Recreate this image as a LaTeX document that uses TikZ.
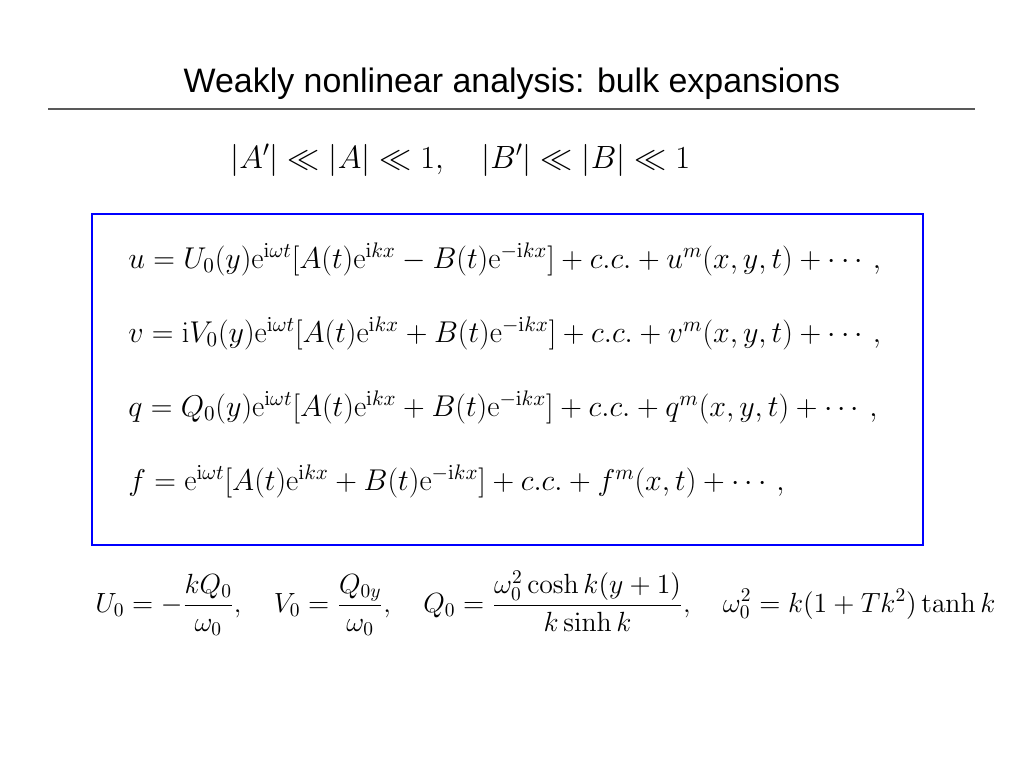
\RequirePackage{fix-cm}
\documentclass[tikz,border=0pt]{standalone}
\usepackage{amsmath,amssymb}
\usepackage[no-math]{fontspec}
\newfontfamily\titlefont{Liberation Sans}
\begin{document}
\begin{tikzpicture}[x=0.02cm,y=-0.02cm,
  eqn/.style={anchor=base west,inner sep=0pt,font=\fontsize{17.1}{20}\selectfont},
  title/.style={anchor=base,inner sep=0pt,font=\titlefont\fontsize{19.3}{23}\selectfont}]
  \useasboundingbox (0,0) rectangle (1024,768);
  \node[title] (title) at (512,92) {Weakly nonlinear analysis: bulk expansions};
  \coordinate (rl) at (48,109);
  \coordinate (rr) at (975,109);
  \draw[gray!70!black,line width=0.6pt] (rl) -- (rr);
  \node[eqn,font=\fontsize{18.3}{21}\selectfont] (ord) at (230,168) {$|A'|\ll|A|\ll 1,\quad |B'|\ll|B|\ll 1$};
  \draw[blue,line width=1.5pt] (92,214) rectangle (923,545);
  \node[eqn] (equ) at (128,268) {$u=U_0(y)\mathrm{e}^{\mathrm{i}\omega t}[A(t)\mathrm{e}^{\mathrm{i}kx}-B(t)\mathrm{e}^{-\mathrm{i}kx}]+c.c.+u^m(x,y,t)+\cdots,$};
  \node[eqn] (eqv) at (128,342) {$v=\mathrm{i}V_0(y)\mathrm{e}^{\mathrm{i}\omega t}[A(t)\mathrm{e}^{\mathrm{i}kx}+B(t)\mathrm{e}^{-\mathrm{i}kx}]+c.c.+v^m(x,y,t)+\cdots,$};
  \node[eqn] (eqq) at (128,416) {$q=Q_0(y)\mathrm{e}^{\mathrm{i}\omega t}[A(t)\mathrm{e}^{\mathrm{i}kx}+B(t)\mathrm{e}^{-\mathrm{i}kx}]+c.c.+q^m(x,y,t)+\cdots,$};
  \node[eqn] (eqf) at (128,490) {$f=\mathrm{e}^{\mathrm{i}\omega t}[A(t)\mathrm{e}^{\mathrm{i}kx}+B(t)\mathrm{e}^{-\mathrm{i}kx}]+c.c.+f^m(x,t)+\cdots,$};
  \node[eqn,font=\fontsize{15.8}{19}\selectfont] (coef) at (95,612) {$U_0=-\dfrac{kQ_0}{\omega_0},\quad V_0=\dfrac{Q_{0y}}{\omega_0},\quad Q_0=\dfrac{\omega_0^2\cosh k(y+1)}{k\sinh k},\quad \omega_0^2=k(1+Tk^2)\tanh k$};
\end{tikzpicture}
\end{document}
